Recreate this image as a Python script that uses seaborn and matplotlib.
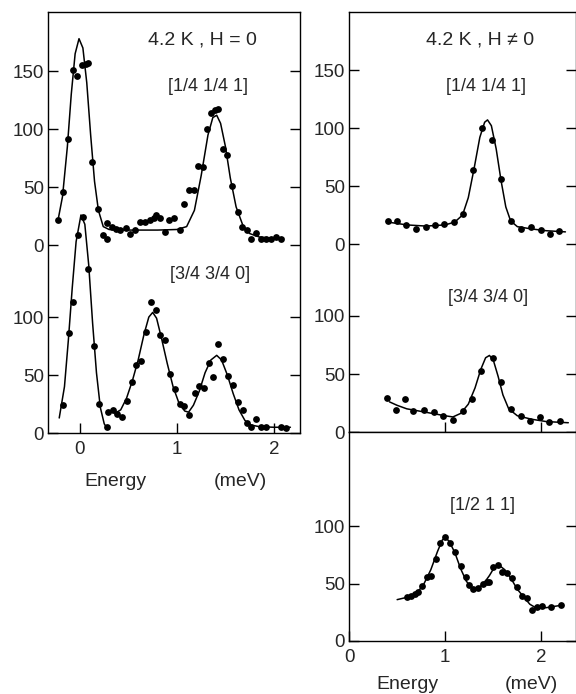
import numpy as np
import matplotlib
matplotlib.use("Agg")
import matplotlib.pyplot as plt
import seaborn as sns

# --- Data, intensities relative to each panel's own zero ---

# H = 0, [1/4 1/4 1]
E_L_UP = [-0.224, -0.172, -0.121, -0.076, -0.028, 0.024, 0.062, 0.086, 0.128, 0.183,
          0.234, 0.276, 0.283, 0.328, 0.369, 0.414, 0.476, 0.517, 0.569, 0.620,
          0.672, 0.724, 0.765, 0.786, 0.827, 0.879, 0.913, 0.965, 1.027, 1.075,
          1.127, 1.179, 1.217, 1.269, 1.310, 1.355, 1.389, 1.420, 1.472, 1.517,
          1.569, 1.627, 1.672, 1.724, 1.765, 1.817, 1.869, 1.920, 1.972, 2.024, 2.068]
I_L_UP = [21.6, 45.4, 91.1, 151.4, 145.7, 155.2, 156.6, 157.2, 71.3, 30.8,
          8.6, 4.9, 19.2, 15.8, 14.1, 12.9, 14.9, 9.2, 12.9, 20.1,
          20.1, 21.6, 23.6, 26.4, 23.8, 11.5, 21.6, 23.6, 12.9, 35.3,
          47.4, 47.4, 68.4, 67.5, 100.0, 113.5, 116.4, 117.8, 83.3, 77.6,
          50.9, 28.2, 15.8, 12.9, 5.7, 10.1, 4.9, 5.7, 4.9, 6.6, 5.2]
FIT_E_L_UP = [-0.23, -0.18, -0.13, -0.09, -0.05, -0.01, 0.03, 0.07, 0.11, 0.15, 0.19,
              0.24, 0.30, 0.50, 0.80, 1.00, 1.10, 1.18, 1.25, 1.32, 1.37, 1.41,
              1.45, 1.50, 1.55, 1.61, 1.68, 1.75, 1.85, 2.00, 2.10]
FIT_I_L_UP = [20, 42, 85, 130, 165, 178, 170, 140, 95, 55, 30,
              16, 13.5, 13, 13, 13.5, 16, 30, 60, 95, 110, 112,
              105, 85, 58, 33, 17, 10, 7, 6, 6]

# H = 0, [3/4 3/4 0]
E_L_LO = [-0.179, -0.114, -0.069, -0.024, 0.028, 0.086, 0.145, 0.200, 0.283, 0.286,
          0.338, 0.379, 0.431, 0.483, 0.534, 0.579, 0.631, 0.679, 0.734, 0.786,
          0.827, 0.879, 0.931, 0.975, 1.027, 1.075, 1.127, 1.182, 1.231, 1.282,
          1.327, 1.372, 1.424, 1.476, 1.527, 1.575, 1.627, 1.679, 1.724, 1.765,
          1.820, 1.869, 1.920, 2.068, 2.120]
I_L_LO = [24.1, 85.9, 113.2, 170.7, 186.5, 141.4, 75.3, 25.0, 4.9, 18.4,
          19.8, 16.1, 14.1, 27.9, 44.2, 58.6, 62.1, 87.3, 113.2, 106.0,
          84.5, 80.2, 50.9, 37.7, 25.0, 23.3, 15.5, 34.2, 40.5, 39.1,
          60.6, 48.5, 76.4, 63.8, 49.4, 41.4, 26.5, 19.8, 8.3, 5.5,
          11.8, 5.5, 4.9, 5.5, 4.3]
FIT_E_L_LO_EL = [-0.214, -0.16, -0.12, -0.08, -0.04, 0.01, 0.05, 0.09, 0.13, 0.17, 0.21, 0.25, 0.28]
FIT_I_L_LO_EL = [13, 40, 80, 125, 165, 188, 180, 145, 95, 52, 22, 8, 4]
FIT_E_L_LO = [0.36, 0.42, 0.48, 0.54, 0.60, 0.66, 0.71, 0.75, 0.79, 0.84, 0.90, 0.96,
              1.02, 1.08, 1.12, 1.17, 1.23, 1.29, 1.35, 1.41, 1.46, 1.52, 1.58, 1.64,
              1.70, 1.76, 1.85, 2.00, 2.17]
FIT_I_L_LO = [17, 20, 30, 45, 63, 85, 100, 104, 99, 82, 60, 40,
              26, 19, 18, 24, 36, 52, 63, 67, 63, 50, 34, 20,
              11, 7, 5.5, 5, 5]

# H != 0, [1/4 1/4 1]
E_R_UP = [0.400, 0.495, 0.592, 0.696, 0.796, 0.893, 0.990, 1.090, 1.187, 1.291,
          1.385, 1.482, 1.585, 1.689, 1.793, 1.887, 1.991, 2.087, 2.184]
I_R_UP = [20.1, 20.1, 16.4, 12.9, 14.9, 16.4, 17.2, 18.7, 25.9, 63.8,
          99.7, 89.9, 56.0, 20.1, 12.9, 14.4, 12.1, 8.6, 11.5]
FIT_E_R_UP = [0.40, 0.60, 0.80, 1.00, 1.10, 1.18, 1.24, 1.30, 1.36, 1.41, 1.44,
              1.48, 1.53, 1.58, 1.63, 1.68, 1.75, 1.90, 2.05, 2.25]
FIT_I_R_UP = [19, 16.5, 15.5, 16.5, 19, 25, 40, 65, 92, 105, 107,
              102, 82, 55, 32, 20, 15, 13, 11.5, 10.5]

# H != 0, [3/4 3/4 0]
E_R_MID = [0.391, 0.488, 0.581, 0.661, 0.782, 0.883, 0.979, 1.077, 1.187, 1.280,
           1.371, 1.492, 1.585, 1.679, 1.783, 1.880, 1.983, 2.080, 2.191]
I_R_MID = [29.6, 19.0, 28.2, 18.1, 19.0, 17.0, 13.8, 10.3, 18.4, 28.4,
           52.9, 64.1, 42.8, 19.8, 13.8, 9.5, 13.2, 8.3, 9.7]
FIT_E_R_MID = [0.42, 0.50, 0.60, 0.80, 1.00, 1.08, 1.16, 1.24, 1.31, 1.37, 1.42,
               1.46, 1.50, 1.55, 1.60, 1.66, 1.75, 1.90, 2.05, 2.28]
FIT_I_R_MID = [26, 23, 20, 17, 14, 13, 16, 24, 38, 54, 64,
               66, 62, 48, 32, 20, 14, 11, 9, 8]

# H != 0, [1/2 1 1]
E_R_LO = [0.598, 0.640, 0.685, 0.720, 0.761, 0.806, 0.851, 0.900, 0.945, 0.997,
          1.049, 1.101, 1.160, 1.212, 1.249, 1.291, 1.336, 1.388, 1.430, 1.457,
          1.492, 1.550, 1.592, 1.644, 1.696, 1.748, 1.800, 1.852, 1.904, 1.956,
          2.008, 2.105, 2.202]
I_R_LO = [38.0, 39.4, 40.9, 42.3, 47.8, 55.9, 56.8, 71.0, 85.0, 90.7,
          85.5, 77.1, 65.2, 55.9, 48.7, 45.0, 45.8, 49.6, 51.0, 51.6,
          64.1, 66.1, 60.3, 58.9, 54.5, 47.2, 39.1, 37.7, 27.0, 29.8,
          30.4, 29.3, 31.3]
FIT_E_R_LO = [0.50, 0.60, 0.70, 0.78, 0.85, 0.92, 0.97, 1.00, 1.04, 1.10, 1.16, 1.22,
              1.28, 1.34, 1.40, 1.46, 1.51, 1.56, 1.62, 1.68, 1.75, 1.82, 1.88, 1.94,
              2.05, 2.20]
FIT_I_R_LO = [36, 38, 41, 50, 62, 78, 88, 90, 87, 77, 63, 52,
              46, 46, 50, 57, 64, 66, 62, 55, 45, 38, 32, 29,
              29, 31]

OFFSET = 162  # zero line of the upper spectrum in the stacked panels
FS = 13.5

sns.set_style("ticks")
plt.rcParams['font.family'] = ['Liberation Sans', 'DejaVu Sans']


def draw(ax, e, i, fit_e, fit_i, shift=0):
    sns.lineplot(x=fit_e, y=np.asarray(fit_i, float) + shift, ax=ax, color='black',
                 lw=1.1, sort=False, estimator=None)
    sns.scatterplot(x=e, y=np.asarray(i, float) + shift, ax=ax, color='black',
                    s=24, linewidth=0, zorder=3)


def style(ax, xlim, ylim, yticks, ylabels, xticks, xlabels):
    ax.set_xlim(*xlim)
    ax.set_ylim(*ylim)
    ax.set_yticks(yticks, ylabels)
    ax.set_xticks(xticks, xlabels)
    ax.set_xlabel('')
    ax.set_ylabel('')
    ax.tick_params(direction='in', length=7, width=1, labelsize=FS,
                   right=True, labelright=False, top=False, color='black')
    ax.tick_params(axis='y', pad=3)
    ax.tick_params(axis='x', pad=6)
    for sp in ax.spines.values():
        sp.set_linewidth(1)
        sp.set_color('black')


fig = plt.figure(figsize=(5.76, 6.94), dpi=100)

# --- Left: H = 0 ---
ax = fig.add_axes([0.0833, 0.376, 0.4377, 0.6067])
draw(ax, E_L_UP, I_L_UP, FIT_E_L_UP, FIT_I_L_UP, shift=OFFSET)
draw(ax, E_L_LO, I_L_LO, FIT_E_L_LO, FIT_I_L_LO)
sns.lineplot(x=FIT_E_L_LO_EL, y=FIT_I_L_LO_EL, ax=ax, color='black', lw=1.1,
             sort=False, estimator=None)
style(ax, (-0.33, 2.27), (0, 363),
      [0, 50, 100, OFFSET, OFFSET + 50, OFFSET + 100, OFFSET + 150],
      ['0', '50', '100', '0', '50', '100', '150'],
      [0, 1, 2], ['0', '1', '2'])

# --- Right top: H != 0 ---
ax = fig.add_axes([0.606, 0.3775, 0.394, 0.6052])
draw(ax, E_R_UP, I_R_UP, FIT_E_R_UP, FIT_I_R_UP, shift=OFFSET)
draw(ax, E_R_MID, I_R_MID, FIT_E_R_MID, FIT_I_R_MID)
style(ax, (0, 2.36), (0, 362),
      [0, 50, 100, OFFSET, OFFSET + 50, OFFSET + 100, OFFSET + 150],
      ['0', '50', '100', '0', '50', '100', '150'],
      [1, 2], ['', ''])

# --- Right bottom: [1/2 1 1] ---
ax = fig.add_axes([0.606, 0.0764, 0.394, 0.3011])
draw(ax, E_R_LO, I_R_LO, FIT_E_R_LO, FIT_I_R_LO)
style(ax, (0, 2.36), (0, 182), [0, 50, 100], ['0', '50', '100'],
      [0, 1, 2], ['0', '1', '2'])

# --- Annotations ---
fig.text(0.352, 0.942, '4.2 K , H = 0', ha='center', va='center', fontsize=14)
fig.text(0.361, 0.875, '[1/4 1/4 1]', ha='center', va='center', fontsize=13)
fig.text(0.365, 0.604, '[3/4 3/4 0]', ha='center', va='center', fontsize=13)
fig.text(0.833, 0.942, '4.2 K , H \u2260 0', ha='center', va='center', fontsize=14)
fig.text(0.844, 0.875, '[1/4 1/4 1]', ha='center', va='center', fontsize=13)
fig.text(0.847, 0.571, '[3/4 3/4 0]', ha='center', va='center', fontsize=13)
fig.text(0.837, 0.271, '[1/2 1 1]', ha='center', va='center', fontsize=13)

fig.text(0.200, 0.3055, 'Energy', ha='center', va='center', fontsize=14)
fig.text(0.417, 0.3055, '(meV)', ha='center', va='center', fontsize=14)
fig.text(0.708, 0.0144, 'Energy', ha='center', va='center', fontsize=14)
fig.text(0.922, 0.0144, '(meV)', ha='center', va='center', fontsize=14)

fig.savefig('out.png', dpi=100, facecolor='white')
